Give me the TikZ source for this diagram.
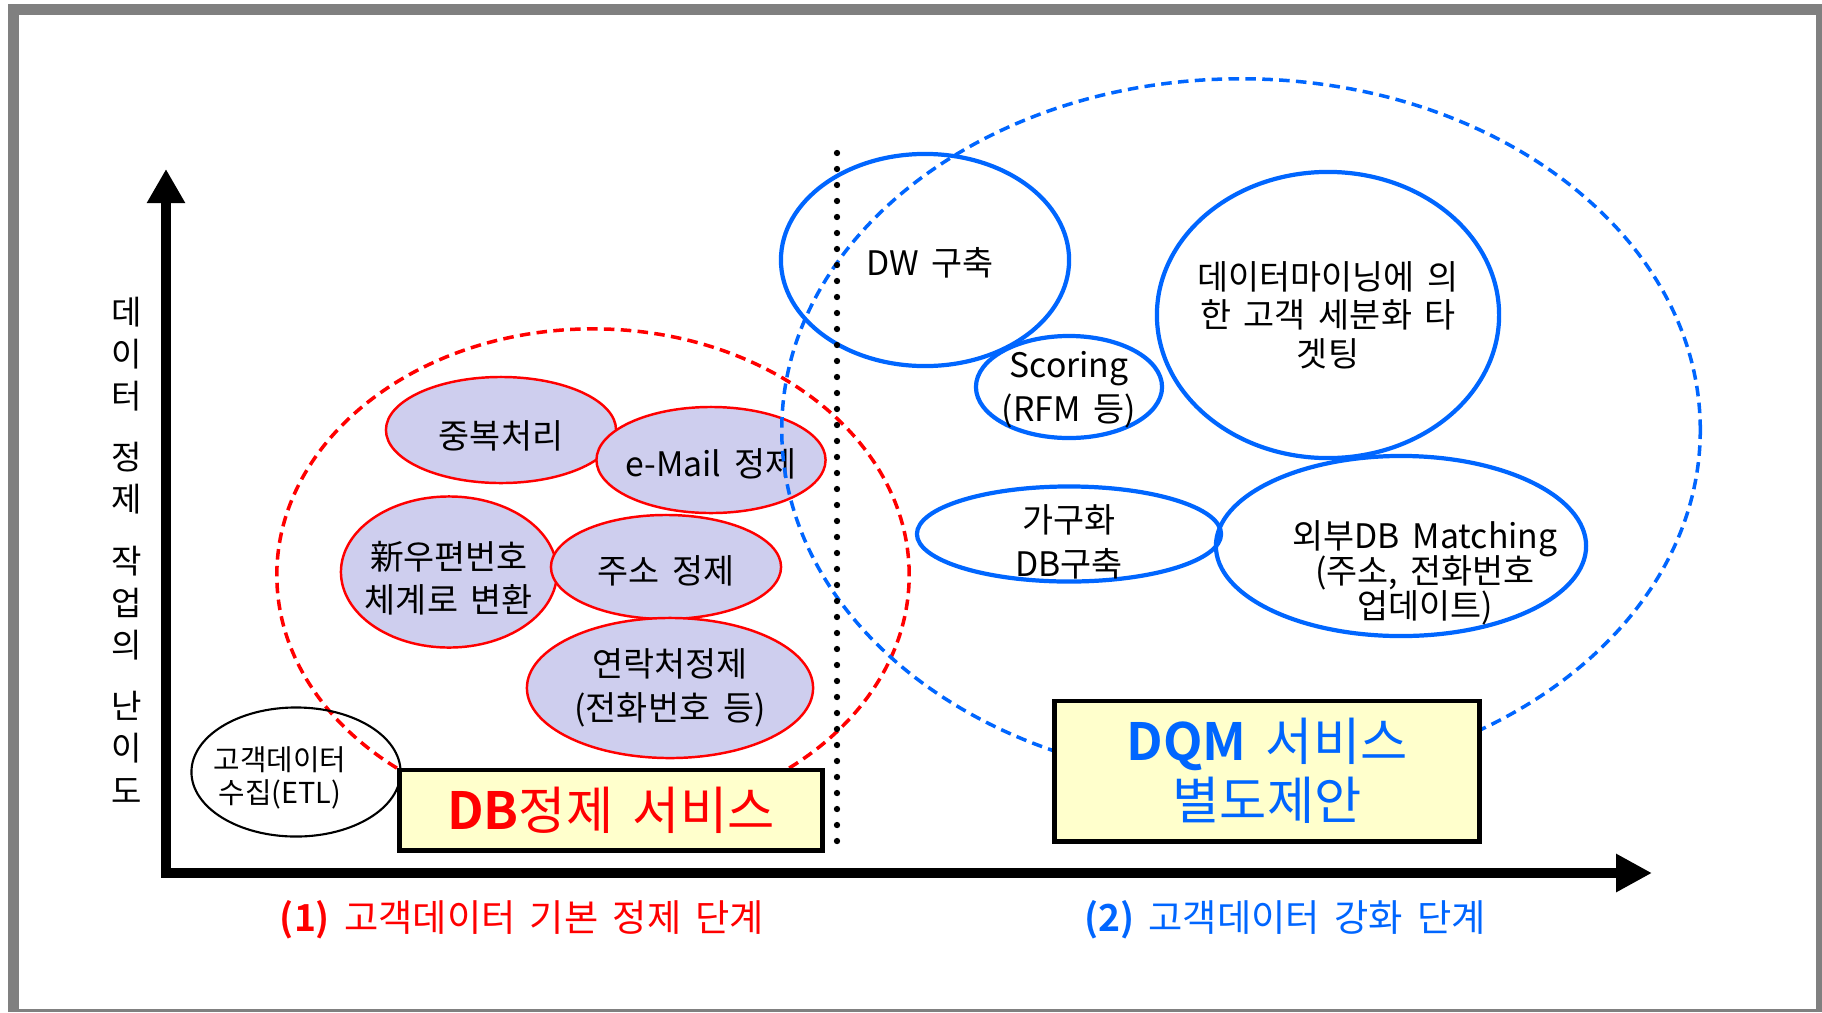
\documentclass[tikz,border=0pt]{standalone}
\usepackage{fontspec}
\setmainfont{Noto Sans CJK KR}[BoldFont={Noto Sans CJK KR Bold},WordSpace=1.7]
\usetikzlibrary{shapes.geometric,arrows.meta}
\definecolor{cleanred}{RGB}{255,0,0}
\definecolor{dqmblue}{RGB}{0,102,255}
\definecolor{taskfill}{RGB}{206,206,238}
\definecolor{boxyellow}{RGB}{255,255,204}
\definecolor{framegray}{RGB}{128,128,128}

\begin{document}
\begin{tikzpicture}[x=0.01cm,y=-0.01cm,
		basictask/.style={ellipse,draw=cleanred,line width=0.7pt,fill=taskfill,inner sep=0pt},
		enrichtask/.style={ellipse,draw=dqmblue,line width=1.2pt,inner sep=0pt},
		tasktext/.style={align=center,inner sep=0pt,font=\fontsize{9.6}{12.4}\selectfont},
		servicebox/.style={draw,line width=1.4pt,fill=boxyellow,inner sep=0pt,align=center},
		stagezone/.style={ellipse,line width=1pt,dash pattern=on 3pt off 1.8pt,inner sep=0pt}]
			% frame
			\useasboundingbox (0,0) rectangle (1822,1012);
			\fill[framegray] (8,4) rectangle (1822,1012);
			\fill[white] (19,15) rectangle (1816,1009);
			% stage 1 zone
			\node[stagezone,draw=cleanred,minimum width=6.32cm,minimum height=4.92cm] (basiczone) at (593,575) {};
			\node[basictask,minimum width=2.30cm,minimum height=1.06cm,label={[tasktext,yshift=-0.06cm]center:중복처리}] (dedup) at (501,430) {};
			\node[basictask,minimum width=2.29cm,minimum height=1.06cm,label={[tasktext,yshift=-0.04cm]center:e-Mail 정제}] (email) at (711,460) {};
			\node[basictask,minimum width=2.16cm,minimum height=1.51cm,label={[tasktext,yshift=-0.06cm]center:{新우편번호\\체계로 변환}}] (zipcode) at (449,572) {};
			\node[basictask,minimum width=2.30cm,minimum height=1.04cm,label={[tasktext,yshift=-0.04cm]center:주소 정제}] (address) at (666,567) {};
			\node[basictask,minimum width=2.86cm,minimum height=1.40cm,label={[tasktext]center:{연락처정제\\(전화번호 등)}}] (contact) at (670,688) {};
			\node[ellipse,draw,line width=0.6pt,inner sep=0pt,minimum width=2.09cm,minimum height=1.29cm,
				label={[align=center,inner sep=0pt,font=\fontsize{8.2}{9.2}\selectfont,xshift=-0.16cm,yshift=-0.06cm]center:{고객데이터\\수집(ETL)}}] (etl) at (296,772) {};
			% stage 2 zone
			\node[stagezone,draw=dqmblue,minimum width=9.18cm,minimum height=7.02cm] (enrichzone) at (1241,430) {};
			\node[enrichtask,minimum width=2.88cm,minimum height=2.12cm,label={[tasktext,xshift=0.05cm,yshift=-0.03cm]center:DW 구축}] (dw) at (925,260) {};
			\node[enrichtask,minimum width=1.86cm,minimum height=1.02cm,label={[tasktext,yshift=-0.03cm]center:{Scoring\\[0pt](RFM 등)}}] (scoring) at (1069,387) {};
			\node[enrichtask,minimum width=3.42cm,minimum height=2.86cm,label={[tasktext]center:{데이터마이닝에 의\\[-1.5pt]한 고객 세분화 타\\[-1.5pt]겟팅}}] (mining) at (1328,315) {};
			\node[enrichtask,minimum width=3.04cm,minimum height=0.95cm,label={[tasktext,yshift=-0.08cm]center:{가구화\\DB구축}}] (household) at (1069,534) {};
			\node[enrichtask,minimum width=3.70cm,minimum height=1.80cm,label={[tasktext,xshift=0.24cm,yshift=-0.27cm]center:{외부DB Matching\\[-2.5pt](주소, 전화번호\\[-2.5pt]업데이트)}}] (extdb) at (1401,546) {};
			% divider
			\coordinate (divtop) at (837,153);
			\coordinate (divbot) at (837,843);
			\draw[line width=1.8pt,line cap=round,dash pattern=on 0pt off 4.55pt] (divtop) -- (divbot);
			% service boxes
			\node[servicebox,minimum width=4.23cm,minimum height=0.80cm,font=\fontsize{14.6}{16}\selectfont,text=cleanred] (dbservice) at (611,810) {\textbf{DB}정제 서비스};
			\node[servicebox,minimum width=4.25cm,minimum height=1.40cm,font=\fontsize{14.6}{16.8}\selectfont,text=dqmblue] (dqmservice) at (1267,771) {\textbf{DQM} 서비스\\별도제안};
			% axes
			\coordinate (origin) at (166,873);
			\coordinate (ytip) at (166,169);
			\coordinate (xtip) at (1652,873);
			\draw[line width=2.8pt,{Triangle[length=0.34cm,width=0.36cm]}-{Triangle[length=0.36cm,width=0.36cm]}] (ytip) -- (origin) -- (xtip);
			\node[align=center,inner sep=0pt,font=\fontsize{9.4}{12}\selectfont] (ylabel) at (127,550) {데\\이\\터\\[5.4pt]정\\제\\[5.4pt]작\\업\\의\\[5.4pt]난\\이\\도};
			\node[inner sep=0pt,font=\fontsize{10.6}{12}\selectfont,text=cleanred] (stage1) at (522,920) {\textbf{(1)} 고객데이터 기본 정제 단계};
			\node[inner sep=0pt,font=\fontsize{10.6}{12}\selectfont,text=dqmblue] (stage2) at (1285,920) {\textbf{(2)} 고객데이터 강화 단계};
		\end{tikzpicture}
\end{document}
